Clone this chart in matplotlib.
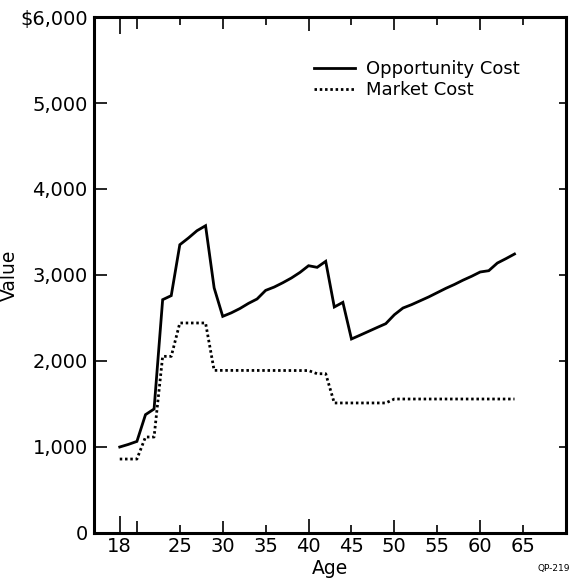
import matplotlib
matplotlib.use("Agg")
import matplotlib.pyplot as plt
from matplotlib.ticker import FixedLocator, FixedFormatter

# ---- data ----
opp_age = [18, 19, 20, 21, 22, 23, 24, 25, 26, 27, 28, 29, 30, 31, 32, 33, 34, 35,
           36, 37, 38, 39, 40, 41, 42, 43, 44, 45, 46, 47, 48, 49, 50, 51, 52, 53,
           54, 55, 56, 57, 58, 59, 60, 61, 62, 63, 64]
opp_cost = [1000, 1030, 1065, 1376, 1442, 2713, 2760, 3352, 3430, 3515, 3573, 2850,
            2519, 2560, 2610, 2670, 2721, 2821, 2860, 2910, 2965, 3030, 3108, 3089,
            3159, 2628, 2682, 2256, 2300, 2345, 2390, 2434, 2538, 2616, 2655, 2700,
            2745, 2795, 2845, 2890, 2940, 2985, 3035, 3050, 3139, 3190, 3244]

mkt_age = [18, 20, 21, 22, 23, 24, 25, 28, 29, 40, 41, 42, 43, 49, 50, 64]
mkt_cost = [860, 860, 1116, 1116, 2054, 2054, 2442, 2442, 1891, 1889, 1852, 1852,
            1512, 1512, 1558, 1558]

x_ticks = [18, 20, 25, 30, 35, 40, 45, 50, 55, 60, 65]
x_tick_labels = ["18", "", "25", "30", "35", "40", "45", "50", "55", "60", "65"]
y_ticks = [0, 1000, 2000, 3000, 4000, 5000, 6000]
y_tick_labels = ["0", "1,000", "2,000", "3,000", "4,000", "5,000", "$6,000"]

series_names = ["Opportunity Cost", "Market Cost"]

# ---- figure ----
plt.rcParams['font.family'] = ['DejaVu Sans']
fig = plt.figure(figsize=(5.72, 5.82), dpi=100)
ax = fig.add_axes([94 / 572, 1 - 533 / 582, 472 / 572, 516 / 582])

ax.plot(opp_age, opp_cost, color='black', lw=2.0, solid_joinstyle='miter',
        label=series_names[0])
ax.plot(mkt_age, mkt_cost, color='black', lw=2.0, linestyle=(0, (0.9, 1.0)),
        dash_capstyle='butt', label=series_names[1])

ax.set_xlim(15, 70)
ax.set_ylim(0, 6000)

for s in ax.spines.values():
    s.set_linewidth(2.2)
    s.set_color('black')

ax.xaxis.set_major_locator(FixedLocator(x_ticks))
ax.xaxis.set_major_formatter(FixedFormatter(x_tick_labels))
ax.yaxis.set_major_locator(FixedLocator(y_ticks))
ax.yaxis.set_major_formatter(FixedFormatter(y_tick_labels))

ax.tick_params(axis='x', which='major', direction='in', top=True, bottom=True,
               width=1.2, labelsize=14, pad=3, color='black')
ax.tick_params(axis='y', which='major', direction='in', left=True, right=True,
               width=1.2, length=9, labelsize=14, pad=4.5, color='black')

# tick lengths (pt) varying as in the reference
x_len = [12, 8.5, 5.5, 8.5, 5.5, 10, 5.5, 9.5, 5.5, 9.5, 5.5]
for t, L in zip(ax.xaxis.get_major_ticks(), x_len):
    t.tick1line.set_markersize(L)
    t.tick2line.set_markersize(L)
for t in ax.yaxis.get_major_ticks():
    t.tick2line.set_markersize(5)

ax.set_xlabel("Age", fontsize=13.5, labelpad=2)
ax.set_ylabel("Value", fontsize=13.5)
ax.yaxis.set_label_coords(-0.16, 0.5)

ax.legend(loc='upper left', bbox_to_anchor=(0.466, 0.917), frameon=False,
          fontsize=13, handlelength=2.27, handletextpad=0.6, labelspacing=0.2,
          borderpad=0, borderaxespad=0)

fig.text(570 / 572, 1 - 569 / 582, "QP-219", fontsize=6.5, ha='right', va='center')

fig.savefig("out.png", dpi=100)
